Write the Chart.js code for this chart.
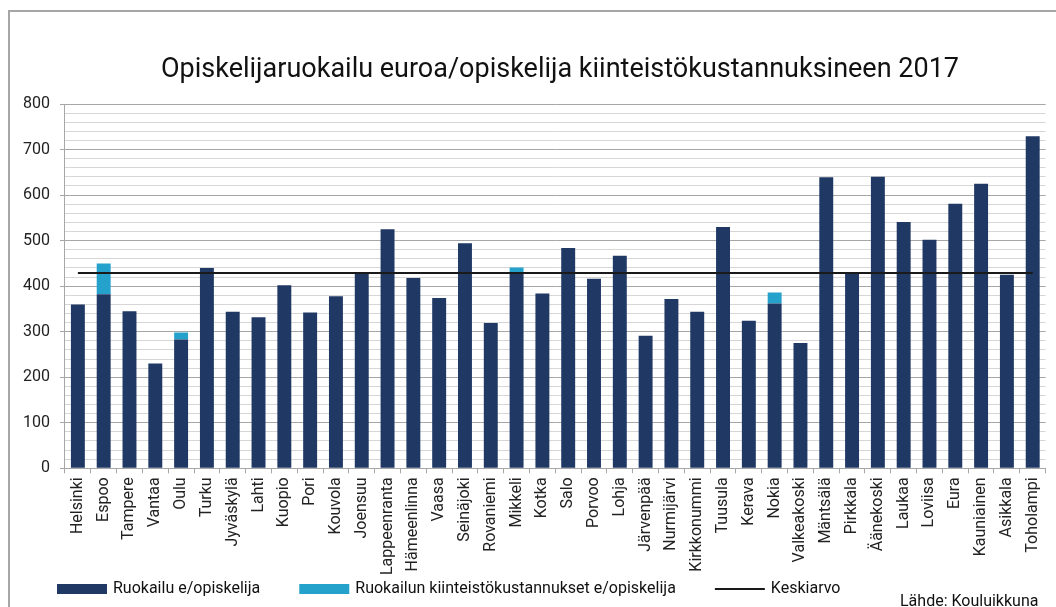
<!DOCTYPE html>
<html lang="fi">
<head>
<meta charset="utf-8">
<title>Opiskelijaruokailu 2017</title>
<script src="https://cdn.jsdelivr.net/npm/chart.js@4.4.1/dist/chart.umd.min.js"></script>
<style>
  html, body { margin: 0; padding: 0; background: #fff; overflow: hidden; }
  #frame { position: absolute; left: 8px; top: 10px; width: 1100px; height: 700px; border: 2px solid #a6a6a6; }
  #chart { position: absolute; left: 0; top: 0; }
</style>
</head>
<body>
<div id="frame"></div>
<canvas id="chart" width="1056" height="607"></canvas>
<script>
const chartTitle = 'Opiskelijaruokailu euroa/opiskelija kiinteistökustannuksineen 2017';
const sourceText = 'Lähde: Kouluikkuna';

const municipalities = [
    'Helsinki', 'Espoo', 'Tampere', 'Vantaa', 'Oulu', 'Turku', 'Jyväskylä', 'Lahti',
    'Kuopio', 'Pori', 'Kouvola', 'Joensuu', 'Lappeenranta', 'Hämeenlinna', 'Vaasa',
    'Seinäjoki', 'Rovaniemi', 'Mikkeli', 'Kotka', 'Salo', 'Porvoo', 'Lohja', 'Järvenpää',
    'Nurmijärvi', 'Kirkkonummi', 'Tuusula', 'Kerava', 'Nokia', 'Valkeakoski', 'Mäntsälä',
    'Pirkkala', 'Äänekoski', 'Laukaa', 'Loviisa', 'Eura', 'Kauniainen', 'Asikkala', 'Toholampi'
];

// euro per student
const mealCost = [
    360, 382, 345, 230, 283, 440, 344, 332, 402, 342, 378, 429, 525, 418, 374, 494, 319, 430, 384,
    484, 416, 467, 291, 372, 344, 530, 324, 362, 275, 639, 428, 640, 541, 502, 581, 625, 425, 729
];
const premisesCost = [
    0, 68, 0, 0, 15, 0, 0, 0, 0, 0, 0, 0, 0, 0, 0, 0, 0, 11, 0,
    0, 0, 0, 0, 0, 0, 0, 0, 24, 0, 0, 0, 0, 0, 0, 0, 0, 0, 0
];
const averageCost = 429;

const yTicks = { min: 0, max: 800, step: 20, labelEvery: 100 };

const darkBlue = '#1f3864';
const lightBlue = '#24a2cc';
const gridMajor = '#a6a6a6';
const gridMinor = '#d6d6d6';

Chart.defaults.font.family = 'Roboto';
Chart.defaults.font.size = 16;
Chart.defaults.color = '#222';

// title, legend row and source note drawn straight on the canvas
const chartText = {
    id: 'chartText',
    afterDraw(chart) {
        const ctx = chart.ctx;
        ctx.save();
        ctx.fillStyle = '#111';
        ctx.font = '27px Roboto';
        ctx.textAlign = 'center';
        ctx.textBaseline = 'alphabetic';
        ctx.fillText(chartTitle, 560, 77);

        ctx.font = '16px Roboto';
        ctx.textAlign = 'left';
        ctx.textBaseline = 'middle';
        let x = 57;
        const y = 589;
        chart.data.datasets.forEach(ds => {
            if (ds.type === 'line') {
                ctx.strokeStyle = ds.borderColor;
                ctx.lineWidth = 2;
                ctx.beginPath();
                ctx.moveTo(x, y);
                ctx.lineTo(x + 50, y);
                ctx.stroke();
            } else {
                ctx.fillStyle = ds.backgroundColor;
                ctx.fillRect(x, y - 5, 50, 10);
            }
            x += 56;
            ctx.fillStyle = '#111';
            ctx.fillText(ds.label, x, y);
            x += ctx.measureText(ds.label).width + 39;
        });

        ctx.textBaseline = 'alphabetic';
        ctx.fillText(sourceText, 900, 606);
        ctx.restore();
    }
};

new Chart(document.getElementById('chart'), {
    type: 'bar',
    data: {
        labels: municipalities,
        datasets: [
            {
                label: 'Ruokailu e/opiskelija',
                data: mealCost,
                backgroundColor: darkBlue,
                stack: 'cost',
                barPercentage: 0.54,
                categoryPercentage: 1
            },
            {
                label: 'Ruokailun kiinteistökustannukset e/opiskelija',
                data: premisesCost,
                backgroundColor: lightBlue,
                stack: 'cost',
                barPercentage: 0.54,
                categoryPercentage: 1
            },
            {
                type: 'line',
                label: 'Keskiarvo',
                data: municipalities.map(() => averageCost),
                borderColor: '#1a1a1a',
                borderWidth: 2,
                pointRadius: 0,
                fill: false,
                stack: 'average',
                order: -1
            }
        ]
    },
    options: {
        responsive: false,
        animation: false,
        layout: {
            padding: { top: 104, left: 13, right: 7, bottom: 28 }
        },
        plugins: {
            legend: { display: false },
            title: { display: false },
            tooltip: { enabled: false }
        },
        scales: {
            x: {
                stacked: true,
                grid: {
                    drawOnChartArea: false,
                    tickLength: 5,
                    tickColor: gridMajor
                },
                border: { color: gridMajor },
                ticks: {
                    autoSkip: false,
                    minRotation: 90,
                    maxRotation: 90,
                    padding: 4
                }
            },
            y: {
                stacked: true,
                min: yTicks.min,
                max: yTicks.max,
                grid: {
                    tickLength: 5,
                    color: c => c.tick.value % yTicks.labelEvery === 0 ? gridMajor : gridMinor,
                    tickColor: c => c.tick.value % yTicks.labelEvery === 0 ? gridMajor : 'rgba(0,0,0,0)'
                },
                border: { color: gridMajor },
                ticks: {
                    stepSize: yTicks.step,
                    maxTicksLimit: 100,
                    autoSkip: false,
                    padding: 10,
                    callback: v => v % yTicks.labelEvery === 0 ? v : ''
                }
            }
        }
    },
    plugins: [chartText]
});
</script>
</body>
</html>
